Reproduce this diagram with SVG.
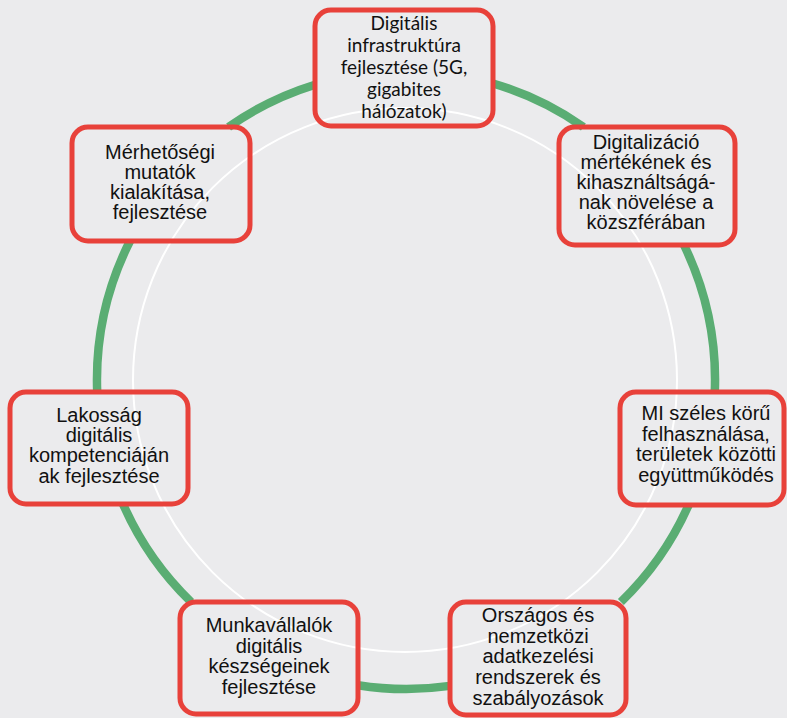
<svg xmlns="http://www.w3.org/2000/svg" width="787" height="718" viewBox="0 0 787 718">
  <style>
    .ring { fill: none; stroke: #5aad73; stroke-width: 8.5; stroke-linecap: butt; }
    .inner { fill: none; stroke: #ffffff; stroke-width: 2; }
    .box { fill: none; stroke: #e8413a; stroke-width: 5; }
    .t { font-family: "Liberation Sans", Arial, sans-serif; font-size: 20px; fill: #111111; text-anchor: middle; }
    .tc { font-family: Lato, "Liberation Sans", sans-serif; font-size: 19px; fill: #111111; text-anchor: middle; }
  </style>
  <rect x="0" y="0" width="787" height="718" fill="#ebebed"/>
  <circle class="inner" cx="405" cy="380" r="272"/>
  <g id="connectors">
    <path class="ring" d="M493,83.5 A309,309 0 0 1 583.4,127"/>
    <path class="ring" d="M684,245 A309,309 0 0 1 714.8,392"/>
    <path class="ring" d="M688.6,505 A309,309 0 0 1 620.9,602"/>
    <path class="ring" d="M450,685.9 A309,309 0 0 1 358,685.2"/>
    <path class="ring" d="M191.1,602 A309,309 0 0 1 123,504"/>
    <path class="ring" d="M97.2,392 A309,309 0 0 1 130,241"/>
    <path class="ring" d="M228.6,127 A309,309 0 0 1 315,84.7"/>
  </g>
  <g id="node-infrastruktura">
    <rect class="box" x="315" y="10" width="178" height="116" rx="16"/>
    <text class="tc" x="404" y="29.5">Digitális</text>
    <text class="tc" x="404" y="51.5">infrastruktúra</text>
    <text class="tc" x="404" y="73.5">fejlesztése (5G,</text>
    <text class="tc" x="404" y="95.5">gigabites</text>
    <text class="tc" x="404" y="117.5">hálózatok)</text>
  </g>
  <g id="node-digitalizacio">
    <rect class="box" x="559" y="127" width="176" height="118" rx="16"/>
    <text class="t" x="646" y="149.3">Digitalizáció</text>
    <text class="t" x="646" y="169.3">mértékének és</text>
    <text class="t" x="646" y="189.3">kihasználtságá-</text>
    <text class="t" x="646" y="209.3">nak növelése a</text>
    <text class="t" x="646" y="229.3">közszférában</text>
  </g>
  <g id="node-merhetosegi">
    <rect class="box" x="72" y="127" width="178" height="114" rx="16"/>
    <text class="t" x="160" y="159.3">Mérhetőségi</text>
    <text class="t" x="160" y="179.3">mutatók</text>
    <text class="t" x="160" y="199.3">kialakítása,</text>
    <text class="t" x="160" y="219.3">fejlesztése</text>
  </g>
  <g id="node-mi">
    <rect class="box" x="620" y="392" width="164" height="113" rx="16"/>
    <text class="t" x="706" y="420">MI széles körű</text>
    <text class="t" x="706" y="440.7">felhasználása,</text>
    <text class="t" x="706" y="461.4">területek közötti</text>
    <text class="t" x="706" y="482">együttműködés</text>
  </g>
  <g id="node-lakossag">
    <rect class="box" x="10" y="392" width="178" height="112" rx="16"/>
    <text class="t" x="99" y="421.7">Lakosság</text>
    <text class="t" x="99" y="442">digitális</text>
    <text class="t" x="99" y="462.3">kompetenciáján</text>
    <text class="t" x="99" y="482.6">ak fejlesztése</text>
  </g>
  <g id="node-munkavallalok">
    <rect class="box" x="180" y="602" width="178" height="112" rx="16"/>
    <text class="t" x="269" y="631.7">Munkavállalók</text>
    <text class="t" x="269" y="652.5">digitális</text>
    <text class="t" x="269" y="673.3">készségeinek</text>
    <text class="t" x="269" y="694">fejlesztése</text>
  </g>
  <g id="node-orszagos">
    <rect class="box" x="450" y="602" width="176" height="113" rx="16"/>
    <text class="t" x="538" y="621.7">Országos és</text>
    <text class="t" x="538" y="642.5">nemzetközi</text>
    <text class="t" x="538" y="663.3">adatkezelési</text>
    <text class="t" x="538" y="684.1">rendszerek és</text>
    <text class="t" x="538" y="704.9">szabályozások</text>
  </g>
</svg>
